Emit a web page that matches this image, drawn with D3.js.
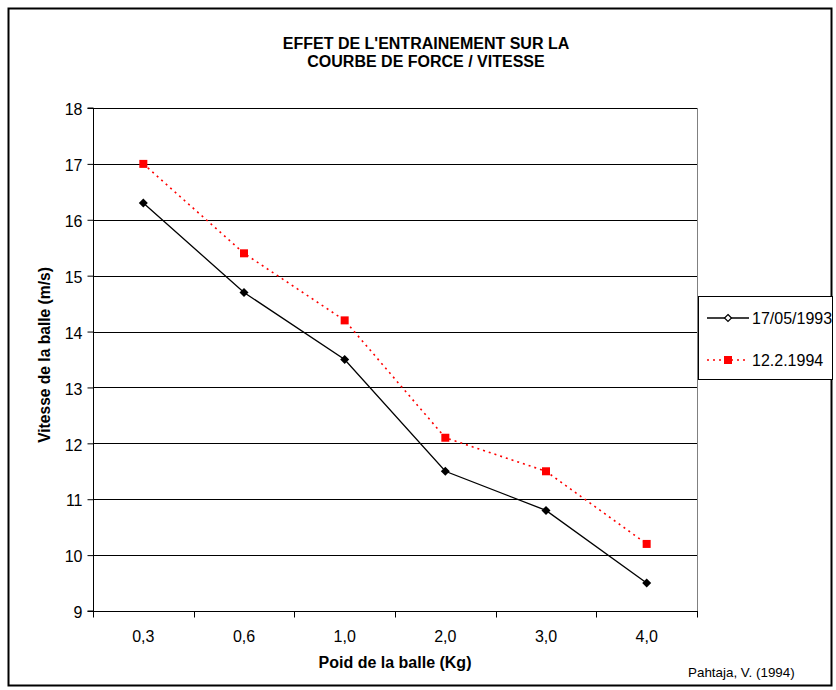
<!DOCTYPE html>
<html>
<head>
<meta charset="utf-8">
<script src="https://cdn.jsdelivr.net/npm/d3@7"></script>
<style>
  html, body { margin: 0; padding: 0; background: #fff; }
  svg text { font-family: Arial, "Liberation Sans", sans-serif; fill: #000; }
</style>
</head>
<body>
<svg id="chart" width="836" height="690"></svg>
<script>
// Ball weight (kg) categories and ball speed (m/s) for both test dates
const categories = ["0,3", "0,6", "1,0", "2,0", "3,0", "4,0"];
const speed1993 = [16.3, 14.7, 13.5, 11.5, 10.8, 9.5];
const speed1994 = [17.0, 15.4, 14.2, 12.1, 11.5, 10.2];
const yTicks = [9, 10, 11, 12, 13, 14, 15, 16, 17, 18];
const seriesNames = ["17/05/1993", "12.2.1994"];

const svg = d3.select("#chart");

// Outer frame
svg.append("rect")
  .attr("x", 8.5).attr("y", 8.5)
  .attr("width", 823).attr("height", 677)
  .attr("fill", "#fff").attr("stroke", "#000").attr("stroke-width", 2);

const plotLeft = 93, plotRight = 697, plotTop = 108, plotBottom = 611;

const x = d3.scaleBand().domain(categories).range([plotLeft, plotRight]);
const y = d3.scaleLinear().domain([9, 18]).range([plotBottom, plotTop]);

// Horizontal gridlines
svg.append("g").selectAll("line")
  .data(yTicks.filter(t => t !== 9))
  .join("line")
  .attr("x1", plotLeft).attr("x2", plotRight)
  .attr("y1", d => Math.round(y(d)) + 0.5).attr("y2", d => Math.round(y(d)) + 0.5)
  .attr("stroke", "#000").attr("stroke-width", 1);

// Plot area right border
svg.append("line")
  .attr("x1", plotRight + 0.5).attr("x2", plotRight + 0.5)
  .attr("y1", plotTop).attr("y2", plotBottom)
  .attr("stroke", "#808080");

// Y axis
const yAxis = d3.axisLeft(y).tickValues(yTicks).tickSize(6).tickPadding(5).tickFormat(d3.format("d"));
const gy = svg.append("g").attr("transform", `translate(${plotLeft + 0.5},0)`).call(yAxis);
gy.selectAll("text")
  .attr("font-size", 16)
  .attr("dy", "0.42em")
  .attr("font-family", "Arial, 'Liberation Sans', sans-serif");
gy.selectAll("line, path").attr("stroke", "#000");
gy.select(".domain").attr("d", `M-6,${plotTop}H0V${plotBottom}H-6`);

// X axis with ticks at category boundaries
const gx = svg.append("g").attr("transform", `translate(0,${plotBottom + 0.5})`);
gx.append("line").attr("x1", plotLeft).attr("x2", plotRight + 1).attr("stroke", "#000");
const bounds = categories.map(c => x(c)).concat([x(categories[categories.length - 1]) + x.bandwidth()]);
gx.selectAll(".bt").data(bounds).join("line")
  .attr("class", "bt")
  .attr("x1", d => Math.round(d) + 0.5).attr("x2", d => Math.round(d) + 0.5)
  .attr("y1", 0).attr("y2", 6).attr("stroke", "#000");
gx.selectAll("text").data(categories).join("text")
  .attr("x", d => x(d) + x.bandwidth() / 2)
  .attr("y", 30)
  .attr("text-anchor", "middle")
  .attr("font-size", 16)
  .text(d => d);

// Lines and markers
const cx = c => x(c) + x.bandwidth() / 2;
const line = d3.line().x((d, i) => cx(categories[i])).y(d => y(d));

svg.append("path").datum(speed1993)
  .attr("d", line).attr("fill", "none")
  .attr("stroke", "#000").attr("stroke-width", 1.3);

svg.append("path").datum(speed1994)
  .attr("d", line).attr("fill", "none")
  .attr("stroke", "#ff0000").attr("stroke-width", 1.6)
  .attr("stroke-dasharray", "2,4");

const diamond = (cxv, cyv, r) => `M${cxv},${cyv - r}L${cxv + r},${cyv}L${cxv},${cyv + r}L${cxv - r},${cyv}Z`;

svg.append("g").selectAll("path")
  .data(speed1993).join("path")
  .attr("d", (d, i) => diamond(cx(categories[i]), y(d), 4.5))
  .attr("fill", "#000");

svg.append("g").selectAll("rect")
  .data(speed1994).join("rect")
  .attr("x", (d, i) => cx(categories[i]) - 4)
  .attr("y", d => y(d) - 4)
  .attr("width", 8).attr("height", 8)
  .attr("fill", "#ff0000");

// Title, centred over the chart area
const titleX = 426;
const title = svg.append("text")
  .attr("text-anchor", "middle")
  .attr("font-size", 16).attr("font-weight", "bold");
title.append("tspan").attr("x", titleX).attr("y", 49).text("EFFET DE L'ENTRAINEMENT SUR LA");
title.append("tspan").attr("x", titleX).attr("y", 67).text("COURBE DE FORCE / VITESSE");

// Axis titles
svg.append("text")
  .attr("transform", `translate(50,355) rotate(-90)`)
  .attr("text-anchor", "middle")
  .attr("font-size", 15.6).attr("font-weight", "bold")
  .text("Vitesse de la balle (m/s)");

svg.append("text")
  .attr("x", (plotLeft + plotRight) / 2).attr("y", 668)
  .attr("text-anchor", "middle")
  .attr("font-size", 16).attr("font-weight", "bold")
  .text("Poid de la balle (Kg)");

// Source note
svg.append("text")
  .attr("x", 688).attr("y", 677)
  .attr("font-size", 13.4)
  .text("Pahtaja, V. (1994)");

// Legend
const lg = svg.append("g");
lg.append("rect")
  .attr("x", 698.5).attr("y", 296.5)
  .attr("width", 134).attr("height", 83)
  .attr("fill", "#fff").attr("stroke", "#000");

const ly = [318, 360];
lg.append("line").attr("x1", 707).attr("x2", 749).attr("y1", ly[0]).attr("y2", ly[0])
  .attr("stroke", "#000").attr("stroke-width", 1.3);
lg.append("path").attr("d", diamond(728, ly[0], 3.5))
  .attr("fill", "#fff").attr("stroke", "#000").attr("stroke-width", 1.2);
lg.append("line").attr("x1", 707).attr("x2", 749).attr("y1", ly[1]).attr("y2", ly[1])
  .attr("stroke", "#ff0000").attr("stroke-width", 1.6).attr("stroke-dasharray", "2,4");
lg.append("rect").attr("x", 724).attr("y", ly[1] - 4).attr("width", 8).attr("height", 8)
  .attr("fill", "#ff0000");

lg.selectAll("text.lt").data(seriesNames).join("text")
  .attr("class", "lt")
  .attr("x", 752).attr("y", (d, i) => ly[i] + 6)
  .attr("font-size", 16)
  .text(d => d);
</script>
</body>
</html>
